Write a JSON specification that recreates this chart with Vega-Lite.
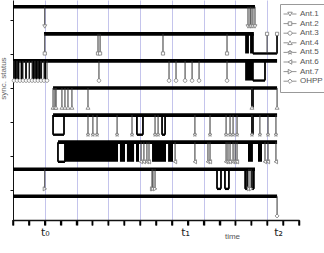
{
  "$schema": "https://vega.github.io/schema/vega-lite/v6.json",
  "width": 286,
  "height": 220,
  "autosize": {"type": "none"},
  "padding": {"left": 13, "top": 0, "right": 25, "bottom": 33},
  "config": {
    "font": "Liberation Sans",
    "view": {"stroke": null},
    "axis": {"domainColor": "#111", "titleFontWeight": "normal"}
  },
  "datasets": {
    "levels": [
      {"series": "Ant.1", "hi": 5.4, "lo": 4.82},
      {"series": "Ant.2", "hi": 4.6, "lo": 4.02},
      {"series": "Ant.3", "hi": 3.8, "lo": 3.22},
      {"series": "Ant.4", "hi": 3.0, "lo": 2.42},
      {"series": "Ant.5", "hi": 2.2, "lo": 1.62},
      {"series": "Ant.6", "hi": 1.4, "lo": 0.82},
      {"series": "Ant.7", "hi": 0.6, "lo": 0.02},
      {"series": "OHPP", "hi": -0.2, "lo": -0.78}
    ],
    "xticks": [
      {"t": 0}, {"t": 1}, {"t": 2}, {"t": 3}, {"t": 4}, {"t": 5}, {"t": 6}, {"t": 7}, {"t": 8}, {"t": 9},
      {"t": 10}, {"t": 11}, {"t": 12}, {"t": 13}, {"t": 14}, {"t": 15}, {"t": 16}, {"t": 17}, {"t": 18}
    ],
    "events": [
      {"series": "Ant.1", "kind": "on", "t": 0, "t2": 15.23},
      {"series": "Ant.1", "kind": "drop", "t": 2.0},
      {"series": "Ant.1", "kind": "drop", "t": 14.79},
      {"series": "Ant.1", "kind": "drop", "t": 14.92},
      {"series": "Ant.1", "kind": "drop", "t": 14.98},
      {"series": "Ant.1", "kind": "drop", "t": 15.1},
      {"series": "Ant.1", "kind": "drop", "t": 15.23},

      {"series": "Ant.2", "kind": "on", "t": 1.95, "t2": 15.16},
      {"series": "Ant.2", "kind": "drop", "t": 2.0},
      {"series": "Ant.2", "kind": "drop", "t": 5.35},
      {"series": "Ant.2", "kind": "drop", "t": 5.48},
      {"series": "Ant.2", "kind": "drop", "t": 9.44},
      {"series": "Ant.2", "kind": "drop", "t": 13.47},
      {"series": "Ant.2", "kind": "burst", "t": 14.61, "t2": 14.85},
      {"series": "Ant.2", "kind": "burst", "t": 14.92, "t2": 15.1},
      {"series": "Ant.2", "kind": "off", "t": 15.1, "t2": 16.62},
      {"series": "Ant.2", "kind": "rise", "t": 15.99},
      {"series": "Ant.2", "kind": "rise", "t": 16.62},

      {"series": "Ant.3", "kind": "on", "t": 0, "t2": 16.62},
      {"series": "Ant.3", "kind": "burst", "t": 0, "t2": 0.38},
      {"series": "Ant.3", "kind": "burst", "t": 0.5, "t2": 0.63},
      {"series": "Ant.3", "kind": "burst", "t": 0.76, "t2": 0.88},
      {"series": "Ant.3", "kind": "burst", "t": 1.01, "t2": 1.07},
      {"series": "Ant.3", "kind": "burst", "t": 1.2, "t2": 1.83},
      {"series": "Ant.3", "kind": "burst", "t": 1.95, "t2": 2.08},
      {"series": "Ant.3", "kind": "drop", "t": 0.06},
      {"series": "Ant.3", "kind": "drop", "t": 0.25},
      {"series": "Ant.3", "kind": "drop", "t": 0.44},
      {"series": "Ant.3", "kind": "drop", "t": 0.63},
      {"series": "Ant.3", "kind": "drop", "t": 0.82},
      {"series": "Ant.3", "kind": "drop", "t": 1.01},
      {"series": "Ant.3", "kind": "drop", "t": 1.2},
      {"series": "Ant.3", "kind": "drop", "t": 1.38},
      {"series": "Ant.3", "kind": "drop", "t": 1.57},
      {"series": "Ant.3", "kind": "drop", "t": 1.76},
      {"series": "Ant.3", "kind": "drop", "t": 1.95},
      {"series": "Ant.3", "kind": "drop", "t": 2.14},
      {"series": "Ant.3", "kind": "drop", "t": 5.41},
      {"series": "Ant.3", "kind": "drop", "t": 9.82},
      {"series": "Ant.3", "kind": "drop", "t": 10.26},
      {"series": "Ant.3", "kind": "drop", "t": 10.83},
      {"series": "Ant.3", "kind": "drop", "t": 11.27},
      {"series": "Ant.3", "kind": "drop", "t": 11.71},
      {"series": "Ant.3", "kind": "drop", "t": 13.47},
      {"series": "Ant.3", "kind": "burst", "t": 14.61, "t2": 15.1},
      {"series": "Ant.3", "kind": "off", "t": 15.1, "t2": 15.86},

      {"series": "Ant.4", "kind": "on", "t": 2.52, "t2": 16.62},
      {"series": "Ant.4", "kind": "drop", "t": 2.52},
      {"series": "Ant.4", "kind": "drop", "t": 2.64},
      {"series": "Ant.4", "kind": "drop", "t": 2.71},
      {"series": "Ant.4", "kind": "drop", "t": 3.08},
      {"series": "Ant.4", "kind": "drop", "t": 3.27},
      {"series": "Ant.4", "kind": "drop", "t": 3.46},
      {"series": "Ant.4", "kind": "drop", "t": 3.71},
      {"series": "Ant.4", "kind": "drop", "t": 4.72},
      {"series": "Ant.4", "kind": "burst", "t": 14.98, "t2": 15.16},
      {"series": "Ant.4", "kind": "drop", "t": 15.04},
      {"series": "Ant.4", "kind": "drop", "t": 16.62},

      {"series": "Ant.5", "kind": "on", "t": 2.52, "t2": 16.62},
      {"series": "Ant.5", "kind": "off", "t": 2.52, "t2": 3.21},
      {"series": "Ant.5", "kind": "drop", "t": 4.72},
      {"series": "Ant.5", "kind": "drop", "t": 5.03},
      {"series": "Ant.5", "kind": "drop", "t": 5.29},
      {"series": "Ant.5", "kind": "drop", "t": 6.55},
      {"series": "Ant.5", "kind": "drop", "t": 7.49},
      {"series": "Ant.5", "kind": "off", "t": 7.8, "t2": 8.18},
      {"series": "Ant.5", "kind": "drop", "t": 8.94},
      {"series": "Ant.5", "kind": "drop", "t": 9.13},
      {"series": "Ant.5", "kind": "off", "t": 9.38, "t2": 9.57},
      {"series": "Ant.5", "kind": "drop", "t": 11.45},
      {"series": "Ant.5", "kind": "drop", "t": 12.4},
      {"series": "Ant.5", "kind": "drop", "t": 13.41},
      {"series": "Ant.5", "kind": "drop", "t": 13.66},
      {"series": "Ant.5", "kind": "drop", "t": 13.85},
      {"series": "Ant.5", "kind": "drop", "t": 14.1},
      {"series": "Ant.5", "kind": "burst", "t": 14.98, "t2": 15.16},
      {"series": "Ant.5", "kind": "drop", "t": 15.04},
      {"series": "Ant.5", "kind": "drop", "t": 15.54},
      {"series": "Ant.5", "kind": "drop", "t": 16.05},
      {"series": "Ant.5", "kind": "drop", "t": 16.55},

      {"series": "Ant.6", "kind": "on", "t": 2.83, "t2": 16.62},
      {"series": "Ant.6", "kind": "off", "t": 2.83, "t2": 3.27},
      {"series": "Ant.6", "kind": "burst", "t": 3.27, "t2": 6.61},
      {"series": "Ant.6", "kind": "burst", "t": 6.73, "t2": 7.05},
      {"series": "Ant.6", "kind": "burst", "t": 7.17, "t2": 7.62},
      {"series": "Ant.6", "kind": "burst", "t": 7.74, "t2": 7.93},
      {"series": "Ant.6", "kind": "drop", "t": 8.06},
      {"series": "Ant.6", "kind": "drop", "t": 8.24},
      {"series": "Ant.6", "kind": "drop", "t": 8.43},
      {"series": "Ant.6", "kind": "drop", "t": 8.56},
      {"series": "Ant.6", "kind": "burst", "t": 8.75, "t2": 9.63},
      {"series": "Ant.6", "kind": "burst", "t": 9.76, "t2": 10.07},
      {"series": "Ant.6", "kind": "drop", "t": 10.2},
      {"series": "Ant.6", "kind": "drop", "t": 11.45},
      {"series": "Ant.6", "kind": "drop", "t": 12.27},
      {"series": "Ant.6", "kind": "drop", "t": 12.4},
      {"series": "Ant.6", "kind": "drop", "t": 13.41},
      {"series": "Ant.6", "kind": "drop", "t": 13.53},
      {"series": "Ant.6", "kind": "drop", "t": 13.66},
      {"series": "Ant.6", "kind": "drop", "t": 13.85},
      {"series": "Ant.6", "kind": "drop", "t": 13.98},
      {"series": "Ant.6", "kind": "drop", "t": 14.1},
      {"series": "Ant.6", "kind": "burst", "t": 14.79, "t2": 15.1},
      {"series": "Ant.6", "kind": "burst", "t": 15.42, "t2": 15.67},
      {"series": "Ant.6", "kind": "drop", "t": 15.86},
      {"series": "Ant.6", "kind": "drop", "t": 16.05},
      {"series": "Ant.6", "kind": "drop", "t": 16.55},

      {"series": "Ant.7", "kind": "on", "t": 0, "t2": 15.23},
      {"series": "Ant.7", "kind": "drop", "t": 2.0},
      {"series": "Ant.7", "kind": "drop", "t": 8.75},
      {"series": "Ant.7", "kind": "drop", "t": 8.81},
      {"series": "Ant.7", "kind": "drop", "t": 8.94},
      {"series": "Ant.7", "kind": "off", "t": 12.84, "t2": 13.09},
      {"series": "Ant.7", "kind": "off", "t": 13.34, "t2": 13.59},
      {"series": "Ant.7", "kind": "off", "t": 14.61, "t2": 14.73},
      {"series": "Ant.7", "kind": "drop", "t": 14.85},
      {"series": "Ant.7", "kind": "drop", "t": 14.98},
      {"series": "Ant.7", "kind": "off", "t": 15.04, "t2": 15.16},

      {"series": "OHPP", "kind": "on", "t": 0, "t2": 16.62},
      {"series": "OHPP", "kind": "drop", "t": 16.62}
    ]
  },
  "data": {"name": "events"},
  "transform": [
    {"lookup": "series", "from": {"data": {"name": "levels"}, "key": "series", "fields": ["hi", "lo"]}}
  ],
  "resolve": {"axis": {"x": "independent"}, "scale": {"shape": "independent"}},
  "layer": [
    {
      "transform": [{"filter": "datum.kind === 'on'"}],
      "mark": {"type": "rule", "color": "#000", "strokeWidth": 3.6},
      "encoding": {
        "x": {
          "field": "t", "type": "quantitative", "title": "time",
          "scale": {"domain": [0, 18], "nice": false, "zero": false},
          "axis": {
            "orient": "bottom",
            "values": [0, 1, 2, 3, 4, 5, 6, 7, 8, 9, 10, 11, 12, 13, 14, 15, 16, 17, 18],
            "labels": false, "grid": false,
            "ticks": true, "tickSize": 5, "tickWidth": 1.5, "tickColor": "#000", "tickOpacity": 1,
            "domainWidth": 1.3, "zindex": 2,
            "titleFontSize": 8, "titleColor": "#555", "titleX": 219, "titleY": 18, "titleBaseline": "alphabetic"
          }
        },
        "x2": {"field": "t2"},
        "y": {
          "field": "hi", "type": "quantitative", "title": "sync. status",
          "scale": {"domain": [-0.9, 5.6], "nice": false, "zero": false},
          "axis": {
            "values": [0, 1, 2, 3, 4, 5], "labels": false, "grid": false,
            "tickSize": 3, "tickColor": "#111", "domainWidth": 1,
            "titleFontSize": 8, "titleColor": "#666", "titleX": -6, "titleY": 78, "titleAngle": -90, "titleBaseline": "bottom", "titleAlign": "center"
          }
        }
      }
    },
    {
      "transform": [{"filter": "datum.kind === 'burst'"}],
      "mark": {"type": "rect", "color": "#000"},
      "encoding": {
        "x": {
          "field": "t", "type": "quantitative", "title": null,
          "axis": {"orient": "bottom", "values": [2, 4, 6, 8, 10, 12, 14, 16], "grid": true, "gridColor": "#c4c4ec", "gridWidth": 1, "ticks": false, "labels": false, "domain": false, "title": null}
        },
        "x2": {"field": "t2"},
        "y": {"field": "hi", "type": "quantitative", "title": "sync. status"},
        "y2": {"field": "lo"}
      }
    },
    {
      "transform": [{"filter": "datum.kind === 'off'"}],
      "mark": {"type": "rule", "color": "#000", "strokeWidth": 2.4},
      "encoding": {
        "x": {
          "field": "t", "type": "quantitative", "title": null,
          "axis": {
            "orient": "bottom",
            "values": [2, 10.83, 16.68],
            "labelExpr": "datum.value === 2 ? 't₀' : datum.value === 10.83 ? 't₁' : 't₂'",
            "labelOverlap": false, "labelFlush": false,
            "labelFontSize": 11, "labelColor": "#222", "labelFont": "DejaVu Sans",
            "ticks": false, "tickSize": 4, "labelPadding": 6, "domain": false, "grid": false, "title": null
          }
        },
        "x2": {"field": "t2"},
        "y": {"field": "lo", "type": "quantitative", "title": "sync. status"}
      }
    },
    {
      "transform": [{"filter": "datum.kind === 'off'"}],
      "mark": {"type": "rule", "color": "#000", "strokeWidth": 1.8},
      "encoding": {
        "x": {"field": "t", "type": "quantitative", "axis": null},
        "y": {"field": "hi", "type": "quantitative", "title": "sync. status"},
        "y2": {"field": "lo"}
      }
    },
    {
      "transform": [{"filter": "datum.kind === 'off'"}],
      "mark": {"type": "rule", "color": "#000", "strokeWidth": 1.8},
      "encoding": {
        "x": {"field": "t2", "type": "quantitative", "axis": null},
        "y": {"field": "hi", "type": "quantitative", "title": "sync. status"},
        "y2": {"field": "lo"}
      }
    },
    {
      "transform": [{"filter": "datum.kind === 'drop' || datum.kind === 'rise'"}],
      "mark": {"type": "rule", "color": "#333", "strokeWidth": 1},
      "encoding": {
        "x": {"field": "t", "type": "quantitative", "axis": null},
        "y": {"field": "hi", "type": "quantitative", "title": "sync. status"},
        "y2": {"field": "lo"}
      }
    },
    {
      "transform": [{"filter": "datum.kind === 'drop'"}],
      "mark": {"type": "point", "filled": true, "fill": "#fff", "stroke": "#777", "strokeWidth": 0.8, "size": 16, "opacity": 1},
      "encoding": {
        "x": {"field": "t", "type": "quantitative", "axis": null},
        "y": {"field": "lo", "type": "quantitative", "title": "sync. status"},
        "shape": {
          "field": "series", "type": "nominal", "legend": null,
          "scale": {
            "domain": ["Ant.1", "Ant.2", "Ant.3", "Ant.4", "Ant.5", "Ant.6", "Ant.7", "OHPP"],
            "range": [
              "M-1,-0.8L1,-0.8L0,0.9Z",
              "M-0.8,-0.8H0.8V0.8H-0.8Z",
              "M-0.9,0A0.9,0.9,0,1,0,0.9,0A0.9,0.9,0,1,0,-0.9,0Z",
              "M-1,0.8L1,0.8L0,-0.9Z",
              "M0,-1L0.22,-0.31L0.95,-0.31L0.36,0.12L0.59,0.81L0,0.38L-0.59,0.81L-0.36,0.12L-0.95,-0.31L-0.22,-0.31Z",
              "M0.8,-1L0.8,1L-0.9,0Z",
              "M-0.8,-1L-0.8,1L0.9,0Z",
              "M0,-1L1,0L0,1L-1,0Z"
            ]
          }
        }
      }
    },
    {
      "transform": [{"filter": "datum.kind === 'rise'"}],
      "mark": {"type": "point", "filled": true, "fill": "#fff", "stroke": "#777", "strokeWidth": 0.8, "size": 16, "opacity": 1},
      "encoding": {
        "x": {"field": "t", "type": "quantitative", "axis": null},
        "y": {"field": "hi", "type": "quantitative", "title": "sync. status"},
        "shape": {
          "field": "series", "type": "nominal", "legend": null,
          "scale": {
            "domain": ["Ant.1", "Ant.2", "Ant.3", "Ant.4", "Ant.5", "Ant.6", "Ant.7", "OHPP"],
            "range": [
              "M-1,-0.8L1,-0.8L0,0.9Z",
              "M-0.8,-0.8H0.8V0.8H-0.8Z",
              "M-0.9,0A0.9,0.9,0,1,0,0.9,0A0.9,0.9,0,1,0,-0.9,0Z",
              "M-1,0.8L1,0.8L0,-0.9Z",
              "M0,-1L0.22,-0.31L0.95,-0.31L0.36,0.12L0.59,0.81L0,0.38L-0.59,0.81L-0.36,0.12L-0.95,-0.31L-0.22,-0.31Z",
              "M0.8,-1L0.8,1L-0.9,0Z",
              "M-0.8,-1L-0.8,1L0.9,0Z",
              "M0,-1L1,0L0,1L-1,0Z"
            ]
          }
        }
      }
    },
    {
      "data": {"name": "xticks"},
      "mark": {"type": "rule", "color": "#000", "strokeWidth": 1.5, "clip": false},
      "encoding": {
        "x": {"field": "t", "type": "quantitative", "axis": null},
        "y": {"datum": -0.9, "type": "quantitative"},
        "y2": {"datum": -1.06}
      }
    },
    {
      "transform": [{"filter": "datum.kind === 'on'"}],
      "mark": {"type": "point", "filled": false, "stroke": "#777", "strokeWidth": 0.8, "size": 20, "opacity": 0},
      "encoding": {
        "x": {"field": "t", "type": "quantitative", "axis": null},
        "y": {"field": "hi", "type": "quantitative", "title": "sync. status"},
        "shape": {
          "field": "series", "type": "nominal",
          "scale": {
            "domain": ["Ant.1", "Ant.2", "Ant.3", "Ant.4", "Ant.5", "Ant.6", "Ant.7", "OHPP"],
            "range": [
              "M-2.9,0H-0.9M0.9,0H2.9M-1,-0.8L1,-0.8L0,0.9Z",
              "M-2.9,0H-0.8M0.8,0H2.9M-0.8,-0.8H0.8V0.8H-0.8Z",
              "M-2.9,0H-0.9M0.9,0H2.9M-0.9,0A0.9,0.9,0,1,0,0.9,0A0.9,0.9,0,1,0,-0.9,0Z",
              "M-2.9,0H-0.9M0.9,0H2.9M-1,0.8L1,0.8L0,-0.9Z",
              "M-2.9,0H-0.95M0.95,0H2.9M0,-1L0.22,-0.31L0.95,-0.31L0.36,0.12L0.59,0.81L0,0.38L-0.59,0.81L-0.36,0.12L-0.95,-0.31L-0.22,-0.31Z",
              "M-2.9,0H-0.9M0.8,0H2.9M0.8,-1L0.8,1L-0.9,0Z",
              "M-2.9,0H-0.8M0.9,0H2.9M-0.8,-1L-0.8,1L0.9,0Z",
              "M-2.9,0H-1M1,0H2.9M0,-1L1,0L0,1L-1,0Z"
            ]
          },
          "legend": {
            "title": null, "orient": "none", "legendX": 267, "legendY": 4,
            "labelFontSize": 8, "labelColor": "#555", "labelOffset": 6,
            "symbolSize": 20, "symbolStrokeWidth": 0.8,
            "strokeColor": "#999", "fillColor": "#fff", "padding": 6, "rowPadding": 1.6,
            "encode": {
              "symbols": {"update": {"stroke": {"value": "#777"}, "fill": {"value": "#fff"}, "opacity": {"value": 1}, "strokeWidth": {"value": 0.8}}}
            }
          }
        }
      }
    }
  ]
}
